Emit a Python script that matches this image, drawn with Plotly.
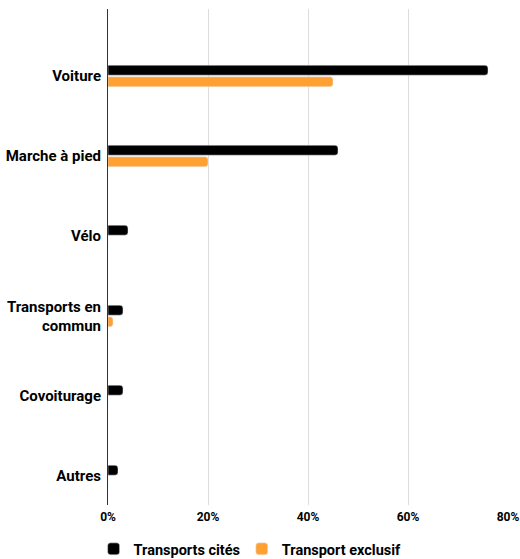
import plotly.graph_objects as go

# Données
categories = ["Voiture", "Marche à pied", "Vélo", "Transports en<br>commun", "Covoiturage", "Autres"]
transports_cites = [76, 46, 4, 3, 3, 2]
transport_exclusif = [45, 20, 0, 1, 0, 0]
x_ticks = [0, 20, 40, 60, 80]
x_labels = ["0%", "20%", "40%", "60%", "80%"]

font_family = "Roboto, 'Noto Sans', sans-serif"

fig = go.Figure()

fig.add_trace(go.Bar(
    y=categories, x=transports_cites, orientation="h",
    name="Transports cités", legend="legend",
    marker=dict(color="#000000", cornerradius=3),
))
fig.add_trace(go.Bar(
    y=categories, x=transport_exclusif, orientation="h",
    name="Transport exclusif", legend="legend2",
    marker=dict(color="#FFA033", cornerradius=3),
))

legend_style = dict(
    orientation="h", xref="container", xanchor="left",
    yref="container", y=0.018, yanchor="middle",
    bgcolor="rgba(0,0,0,0)",
    font=dict(size=14.5, weight="bold"),
)

fig.update_layout(
    width=520, height=559,
    margin=dict(l=108, r=12, t=9, b=54, autoexpand=False),
    plot_bgcolor="white", paper_bgcolor="white",
    barmode="group", bargap=0.71, bargroupgap=0.14,
    font=dict(family=font_family, color="#000000", size=15, weight="bold"),
    showlegend=True,
    legend=dict(legend_style, x=0.18),
    legend2=dict(legend_style, x=0.465),
    xaxis=dict(
        range=[0, 80], tickvals=x_ticks, ticktext=x_labels,
        showgrid=True, gridcolor="#dcdcdc", gridwidth=1,
        zeroline=False, showline=False, automargin=False,
        tickfont=dict(size=12, weight="bold"), ticklabelstandoff=3,
    ),
    yaxis=dict(
        type="category", range=[5.3625, -0.8375],
        showline=True, linecolor="#333333", linewidth=1,
        showgrid=False, ticks="", automargin=False,
        tickfont=dict(size=15, weight="bold"), ticklabelstandoff=3,
    ),
)

fig.write_html(
    "out.html",
    config={"displayModeBar": False},
    post_script="document.body.style.margin='0';",
)
